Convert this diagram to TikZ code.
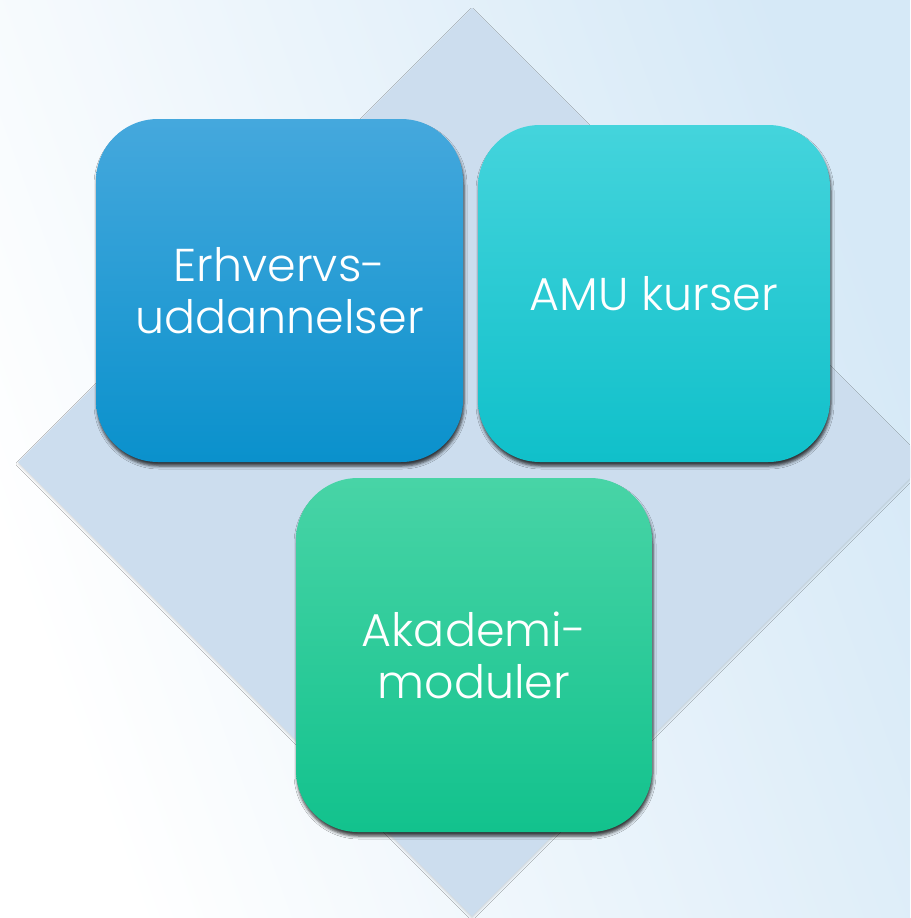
\documentclass[tikz,border=0pt]{standalone}
\usepackage{fontspec}
\setmainfont{Poppins Light}
\usetikzlibrary{shadows.blur}

\definecolor{bgblue}{HTML}{D6E9F7}
\definecolor{diamondcol}{HTML}{CCDDEE}
\definecolor{blueTop}{HTML}{45A8DD}
\definecolor{blueBot}{HTML}{0A91CC}
\definecolor{cyanTop}{HTML}{44D4DC}
\definecolor{cyanBot}{HTML}{10C0CA}
\definecolor{greenTop}{HTML}{48D4A6}
\definecolor{greenBot}{HTML}{12C28D}

\tikzset{
  box/.style={rounded corners=62pt, align=center, text=white,
    font=\fontsize{46}{52}\selectfont, inner sep=0pt,
    blur shadow={shadow xshift=1pt, shadow yshift=-4pt,
      shadow blur radius=3pt, shadow opacity=75}},
}

\begin{document}
\begin{tikzpicture}[x=1pt, y=-1pt]
\useasboundingbox (0,0) rectangle (910,918);
\clip (0,0) rectangle (910,918);
% background
\shade[left color=white, right color=bgblue, shading angle=110] (0,0) rectangle (910,918);
% diamond behind the boxes
\fill[diamondcol, blur shadow={shadow xshift=0pt, shadow yshift=-2pt, shadow blur radius=2pt, shadow opacity=15}]
  (472,8) -- (926,462) -- (472,916) -- (18,462) -- cycle;
% the three boxes
\node[box, top color=blueTop, bottom color=blueBot,
  minimum width=367pt, minimum height=343pt] (erhverv) at (279.5,290.5) {Erhvervs-\\uddannelser};
\node[box, top color=cyanTop, bottom color=cyanBot,
  minimum width=352pt, minimum height=337pt] (amu) at (654,293.5) {AMU kurser};
\node[box, top color=greenTop, bottom color=greenBot,
  minimum width=356pt, minimum height=354pt] (akademi) at (474,655) {Akademi-\\moduler};
\end{tikzpicture}
\end{document}
